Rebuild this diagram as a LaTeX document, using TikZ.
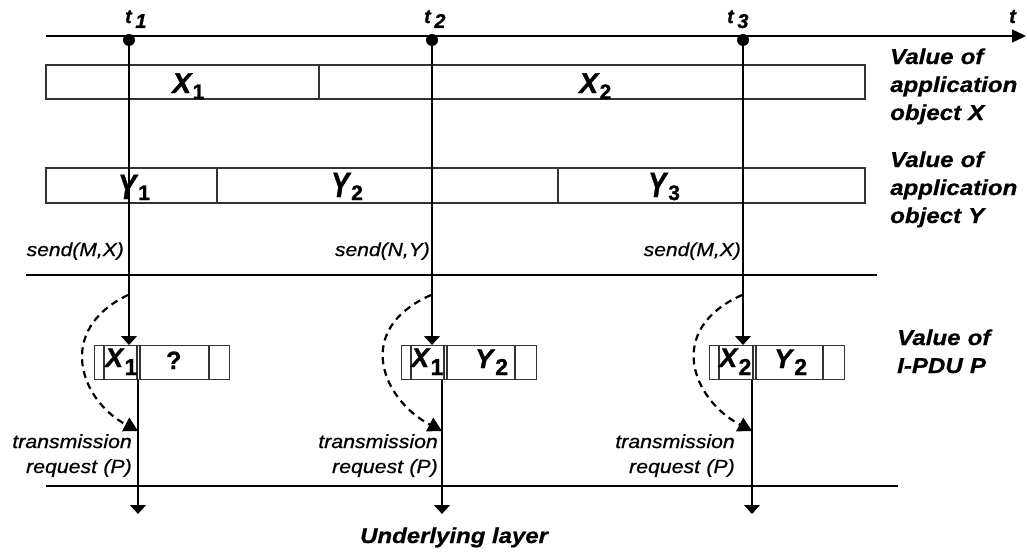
\documentclass[tikz,border=0pt]{standalone}
\usepackage{graphicx}
\usepackage{fontspec}
\setmainfont{Liberation Sans}[FakeBold=1.2]
\newfontfamily\wfont{Liberation Sans}[FakeStretch=1.12,FakeBold=0.7]
\usetikzlibrary{arrows.meta}
% #1 letter, #2 index, #3 letter size, #4 index size, #5 index drop, #6 vertical scale of letter
\newcommand\symlbl[6]{{\fontsize{#3}{#3}\selectfont\scalebox{1}[#6]{\textbf{\textit{#1}}}}\raisebox{-#5pt}{\fontsize{#4}{#4}\selectfont\textbf{#2}}}
\newcommand\tsym[1]{{\fontsize{19.5}{19.5}\selectfont\textbf{\textit{t}}}\hspace{3pt}\raisebox{-5pt}{\fontsize{20}{20}\selectfont\textbf{\textit{#1}}}}
\begin{document}
\begin{tikzpicture}[x=1pt,y=-1pt,
  fieldline/.style={draw=black!80,line width=1.1pt},
  sepline/.style={draw=black,line width=2.4pt},
  dotnode/.style={circle,fill=black,inner sep=0pt,minimum size=12pt},
  pdubox/.style={rectangle,draw=black!80,line width=1.1pt,minimum width=135pt,minimum height=34pt,inner sep=0pt,anchor=north west},
  flow/.style={draw=black,line width=1.3pt,-{Triangle[length=9pt,width=16pt]}},
  dashflow/.style={draw=black,line width=2.2pt,dash pattern=on 7pt off 5pt,-{Triangle[length=14pt,width=15pt]}},
  sendlbl/.style={font=\wfont\fontsize{18.8}{18.8}\selectfont\itshape,anchor=base east,inner sep=0pt},
  reqlbl/.style={font=\wfont\fontsize{19}{25}\selectfont\itshape,align=right,text width=140pt,anchor=base east,inner sep=0pt},
  sidelbl/.style={font=\wfont\fontsize{21.5}{28}\selectfont\bfseries\itshape,align=left,text width=140pt,anchor=base west,inner sep=0pt},
  celllbl/.style={inner sep=0pt,anchor=base west}
]
\useasboundingbox (0,0) rectangle (1027,551);

% time axis
\coordinate (axs) at (46,36);
\coordinate (axe) at (1026,36);
\draw[line width=1.4pt,-{Triangle[length=14pt,width=13pt]}] (axs) -- (axe);
\node[inner sep=0pt,anchor=base west] (tlbl) at (1009,23) {\fontsize{20}{20}\selectfont\textbf{\textit{t}}};

\node[dotnode] (d1) at (129,40) {};
\node[dotnode] (d2) at (432,40) {};
\node[dotnode] (d3) at (743,40) {};
\node[inner sep=0pt,anchor=base west] (t1) at (125,23) {\tsym{1}};
\node[inner sep=0pt,anchor=base west] (t2) at (424,23) {\tsym{2}};
\node[inner sep=0pt,anchor=base west] (t3) at (727,23) {\tsym{3}};

% application object X
\draw[fieldline] (46,65) rectangle (319,99);
\draw[fieldline] (319,65) rectangle (865,99);
\node[celllbl] (x1) at (172,93) {\symlbl{X}{1}{28.5}{21}{6}{1}};
\node[celllbl] (x2) at (579,93) {\symlbl{X}{2}{28.5}{21}{6}{1}};

% application object Y
\draw[fieldline] (46,168) rectangle (217,203);
\draw[fieldline] (217,168) rectangle (558,203);
\draw[fieldline] (558,168) rectangle (865,203);
\node[celllbl] (y1) at (118,199) {\symlbl{Y}{1}{27}{21}{1}{1.3}};
\node[celllbl] (y2) at (331,197) {\symlbl{Y}{2}{27}{21}{3}{1.3}};
\node[celllbl] (y3) at (648,197) {\symlbl{Y}{3}{27}{21}{3}{1.3}};

\node[sidelbl] (lx) at (890,64) {Value of\\application\\object X};
\node[sidelbl] (ly) at (890,167) {Value of\\application\\object Y};

% send labels
\node[sendlbl] (s1) at (124,256) {send(M,X)};
\node[sendlbl] (s2) at (430,256) {send(N,Y)};
\node[sendlbl] (s3) at (741,256) {send(M,X)};

% layer lines
\coordinate (sepa) at (26,275);
\coordinate (sepb) at (877,275);
\draw[sepline] (sepa) -- (sepb);
\coordinate (bota) at (46,486);
\coordinate (botb) at (898,486);
\draw[sepline] (bota) -- (botb);

% I-PDU boxes
\node[pdubox] (p1) at (94,345) {};
\node[pdubox] (p2) at (401,345) {};
\node[pdubox] (p3) at (709,345) {};
\foreach \p/\a/\b/\bb/\c in {p1/104/137/140/209, p2/411/444/447/515, p3/719/753/756/823}{
  \draw[fieldline] (\p.north west -| \a,0) -- (\p.south west -| \a,0);
  \draw[fieldline] (\p.north west -| \b,0) -- (\p.south west -| \b,0);
  \draw[fieldline] (\p.north west -| \bb,0) -- (\p.south west -| \bb,0);
  \draw[fieldline] (\p.north west -| \c,0) -- (\p.south west -| \c,0);
}
\node[celllbl] (px1) at (105,367) {\symlbl{X}{1}{27}{23}{8}{1}};
\node[celllbl] (pq1) at (166,369) {\fontsize{25}{25}\selectfont\textbf{?}};
\node[celllbl] (px2) at (411,367) {\symlbl{X}{1}{27}{23}{8}{1}};
\node[celllbl] (py2) at (475,368) {\symlbl{Y}{2}{27}{23}{7}{1}};
\node[celllbl] (px3) at (719,367) {\symlbl{X}{2}{27}{23}{8}{1}};
\node[celllbl] (py3) at (774,368) {\symlbl{Y}{2}{27}{23}{7}{1}};

\node[sidelbl] (lp) at (897,345) {Value of\\I-PDU P};

% flows from time points into the PDU
\draw[flow] (d1.center) -- (d1 |- p1.north);
\draw[flow] (d2.center) -- (d2 |- p2.north);
\draw[flow] (d3.center) -- (d3 |- p3.north);

% transmission requests
\coordinate (b1) at (138,514);
\coordinate (b2) at (442,514);
\coordinate (b3) at (752,514);
\draw[flow] (b1 |- p1.south) -- (b1);
\draw[flow] (b2 |- p2.south) -- (b2);
\draw[flow] (b3 |- p3.south) -- (b3);

\coordinate (c1) at (128,295);
\coordinate (c2) at (431,295);
\coordinate (c3) at (742,295);
\coordinate (r1) at (138,431);
\coordinate (r2) at (442,431);
\coordinate (r3) at (752,431);
\draw[dashflow] (c1) .. controls (55,330) and (80,400) .. (r1);
\draw[dashflow] (c2) .. controls (352,330) and (383,400) .. (r2);
\draw[dashflow] (c3) .. controls (664,330) and (693,400) .. (r3);

\node[reqlbl] (q1) at (132,448) {transmission\\request (P)};
\node[reqlbl] (q2) at (438,448) {transmission\\request (P)};
\node[reqlbl] (q3) at (735,448) {transmission\\request (P)};

\node[inner sep=0pt,anchor=base west,font=\wfont\fontsize{21.4}{21.4}\selectfont\bfseries\itshape] (ul) at (360,543) {Underlying layer};
\end{tikzpicture}
\end{document}
